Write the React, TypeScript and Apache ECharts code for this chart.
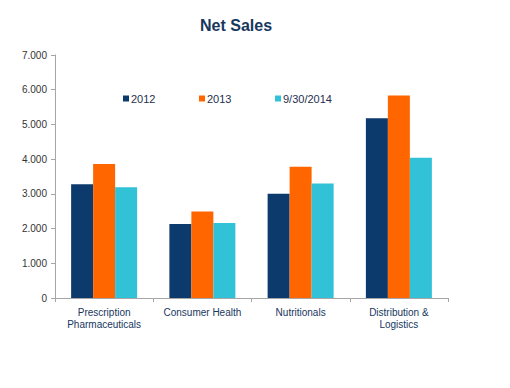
import React, { useEffect, useRef } from "react";
import * as echarts from "echarts";

const categories = [
  "Prescription\nPharmaceuticals",
  "Consumer Health",
  "Nutritionals",
  "Distribution &\nLogistics",
];
const seriesNames = ["2012", "2013", "9/30/2014"];
const values2012 = [3280, 2130, 3000, 5180];
const values2013 = [3860, 2490, 3780, 5830];
const values2014 = [3190, 2160, 3300, 4040];
const colors = ["#0c3a6c", "#ff6600", "#31c2d8"];
const legendLeft = [118, 194, 270];

export default function App() {
  const ref = useRef<HTMLDivElement>(null);
  useEffect(() => {
    if (!ref.current) return;
    const chart = echarts.init(ref.current, undefined, { renderer: "svg" });
    const allValues = [values2012, values2013, values2014];
    chart.setOption({
      animation: false,
      textStyle: { fontFamily: "Arial, Liberation Sans, sans-serif" },
      title: {
        text: "Net Sales",
        left: 231,
        top: 12,
        textAlign: "center",
        textStyle: { fontSize: 16, fontWeight: "bold", color: "#17375e" },
      },
      legend: seriesNames.map((n, i) => ({
        data: [n],
        left: legendLeft[i],
        top: 88,
        itemWidth: 6,
        itemHeight: 6,
        itemGap: 2,
        icon: "rect",
        textStyle: { fontSize: 11, color: "#1f2f4f", padding: [0, 0, 0, -3] },
      })),
      grid: { left: 55, right: 62, top: 55, bottom: 90, containLabel: false },
      xAxis: {
        type: "category",
        data: categories,
        axisLine: { lineStyle: { color: "#a6a6a6" } },
        axisTick: { show: true, length: 4, lineStyle: { color: "#a6a6a6" } },
        axisLabel: {
          fontSize: 10,
          color: "#17375e",
          lineHeight: 12,
          margin: 8,
          interval: 0,
        },
      },
      yAxis: {
        type: "value",
        min: 0,
        max: 7000,
        interval: 1000,
        splitLine: { show: false },
        axisLine: { show: true, lineStyle: { color: "#a6a6a6" } },
        axisTick: { show: true, length: 4, lineStyle: { color: "#a6a6a6" } },
        axisLabel: {
          fontSize: 10,
          color: "#333333",
          margin: 8,
          formatter: (v: number) =>
            v === 0 ? "0" : String(v).replace(/\B(?=(\d{3})+(?!\d))/g, "."),
        },
      },
      series: seriesNames.map((n, i) => ({
        name: n,
        type: "bar",
        data: allValues[i],
        itemStyle: { color: colors[i] },
        barWidth: 22,
        barGap: "0%",
      })),
    });
    return () => chart.dispose();
  }, []);
  return (
    <div
      ref={ref}
      style={{ position: "absolute", left: 0, top: 0, width: 510, height: 388 }}
    />
  );
}
